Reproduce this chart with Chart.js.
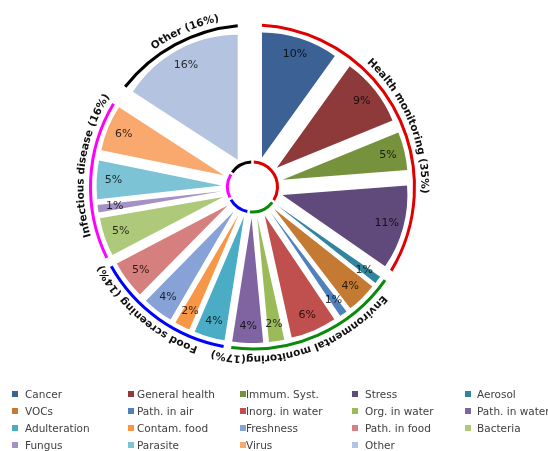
<!DOCTYPE html>
<html>
<head>
<meta charset="utf-8">
<script src="https://cdn.jsdelivr.net/npm/chart.js@4.4.0/dist/chart.umd.min.js"></script>
<style>
html, body { margin: 0; padding: 0; background: #fff; }
</style>
</head>
<body>
<canvas id="chart" width="548" height="451"></canvas>
<script>
var categories = ['Cancer', 'General health', 'Immum. Syst.', 'Stress', 'Aerosol', 'VOCs', 'Path. in air',
    'Inorg. in water', 'Org. in water', 'Path. in water', 'Adulteration', 'Contam. food', 'Freshness',
    'Path. in food', 'Bacteria', 'Fungus', 'Parasite', 'Virus', 'Other'];
var shares = [10, 9, 5, 11, 1, 4, 1, 6, 2, 4, 4, 2, 4, 5, 5, 1, 5, 6, 16];
var sliceColors = ['#3B6195', '#8E3A3A', '#76923C', '#604A7B', '#31859C', '#C47A32', '#4F81BD',
    '#C0504D', '#9BBB59', '#8064A2', '#4BACC6', '#F79646', '#86A2D6', '#D5807F', '#AFC97A',
    '#A592C4', '#7CC3D6', '#F9A86E', '#B4C4E0'];

var groupLabels = ['Health monitoring (35%)', 'Environmental monitoring(17%)', 'Food screening (14%)',
    'Infectious disease (16%)', 'Other (16%)'];
var groupSizes = [4, 6, 4, 4, 1];
var groupColors = ['#E00000', '#0A8A0A', '#0000FF', '#FF00FF', '#000000'];

var EXPLODE = 31;
var FONT = '"DejaVu Sans", Verdana, sans-serif';

function toRad(deg)
{
    return deg * Math.PI / 180;
}

function groupSpans(meta)
{
    var spans = [], i = 0;

    groupSizes.forEach(function (n)
    {
        spans.push({ first: meta.data[i], last: meta.data[i + n - 1] });
        i += n;
    });

    return spans;
}

// where the edge of an exploded slice crosses a circle of radius r round the true centre
function edgeAngle(arc, edge, r, sign)
{
    var mid = (arc.startAngle + arc.endAngle) / 2;

    return edge + sign * Math.asin(EXPLODE * Math.sin(Math.abs(mid - edge)) / r);
}

function arcText(ctx, text, cx, cy, r, mid)
{
    var a = mid - ctx.measureText(text).width / r / 2;

    for (var i = 0; i < text.length; i++)
    {
        var w = ctx.measureText(text[i]).width;
        var ang = a + w / 2 / r;

        ctx.save();
        ctx.translate(cx + r * Math.cos(ang), cy + r * Math.sin(ang));
        ctx.rotate(ang + Math.PI / 2);
        ctx.fillText(text[i], 0, 0);
        ctx.restore();

        a += w / r;
    }
}

var explode = {
    id: 'explode',
    beforeDatasetsDraw: function (chart)
    {
        chart.getDatasetMeta(0).data.forEach(function (arc)
        {
            var mid = (arc.startAngle + arc.endAngle) / 2;
            arc.x += Math.cos(mid) * EXPLODE;
            arc.y += Math.sin(mid) * EXPLODE;
        });
    },
    afterDatasetsDraw: function (chart)
    {
        var ctx = chart.ctx, meta = chart.getDatasetMeta(0);

        meta.data.forEach(function (arc)
        {
            var mid = (arc.startAngle + arc.endAngle) / 2;
            arc.x -= Math.cos(mid) * EXPLODE;
            arc.y -= Math.sin(mid) * EXPLODE;
        });

        var cx = meta.data[0].x, cy = meta.data[0].y, R = meta.data[0].outerRadius;

        ctx.save();

        // percentages in the slices
        ctx.font = '11px ' + FONT;
        ctx.fillStyle = 'rgba(0,0,0,0.8)';
        ctx.textAlign = 'center';
        ctx.textBaseline = 'middle';
        meta.data.forEach(function (arc, i)
        {
            var mid = (arc.startAngle + arc.endAngle) / 2, r = EXPLODE + R * 0.865;
            ctx.fillText(shares[i] + '%', cx + Math.cos(mid) * r, cy + Math.sin(mid) * r);
        });

        // group rings and curved group names
        var outerR = R + EXPLODE + 6, innerR = 25, gap = toRad(3);
        ctx.lineWidth = 3;
        ctx.font = 'bold 10.5px ' + FONT;
        ctx.textBaseline = 'alphabetic';
        groupSpans(meta).forEach(function (g, i)
        {
            ctx.strokeStyle = groupColors[i];

            var a0 = edgeAngle(g.first, g.first.startAngle, outerR, 1);
            var a1 = edgeAngle(g.last, g.last.endAngle, outerR, -1);
            ctx.beginPath();
            ctx.arc(cx, cy, outerR, a0, a1);
            ctx.stroke();

            ctx.beginPath();
            ctx.arc(cx, cy, innerR, g.first.startAngle + gap, g.last.endAngle - gap);
            ctx.stroke();

            ctx.fillStyle = '#111';
            arcText(ctx, groupLabels[i], cx, cy, outerR + 7, (g.first.startAngle + g.last.endAngle) / 2 + toRad(5));
        });

        ctx.restore();
    },
    afterDraw: function (chart)
    {
        var ctx = chart.ctx;
        var cols = [[12, 25], [128, 137], [240, 246], [352, 365], [465, 477]];

        ctx.save();
        ctx.font = '10.5px ' + FONT;
        ctx.textAlign = 'left';
        ctx.textBaseline = 'middle';
        categories.forEach(function (name, i)
        {
            var col = cols[i % 5], y = 394 + Math.floor(i / 5) * 17;
            ctx.fillStyle = sliceColors[i];
            ctx.fillRect(col[0], y - 3, 6, 6);
            ctx.fillStyle = '#404040';
            ctx.fillText(name, col[1], y + 1);
        });
        ctx.restore();
    }
};

new Chart(document.getElementById('chart'), {
    type: 'pie',
    data: {
        labels: categories,
        datasets: [{
            data: shares,
            backgroundColor: sliceColors,
            borderWidth: 0
        }]
    },
    options: {
        responsive: false,
        animation: false,
        events: [],
        radius: 125,
        layout: { padding: { left: 0, right: 43, top: 0, bottom: 77 } },
        plugins: {
            legend: { display: false },
            tooltip: { enabled: false }
        }
    },
    plugins: [explode]
});
</script>
</body>
</html>
